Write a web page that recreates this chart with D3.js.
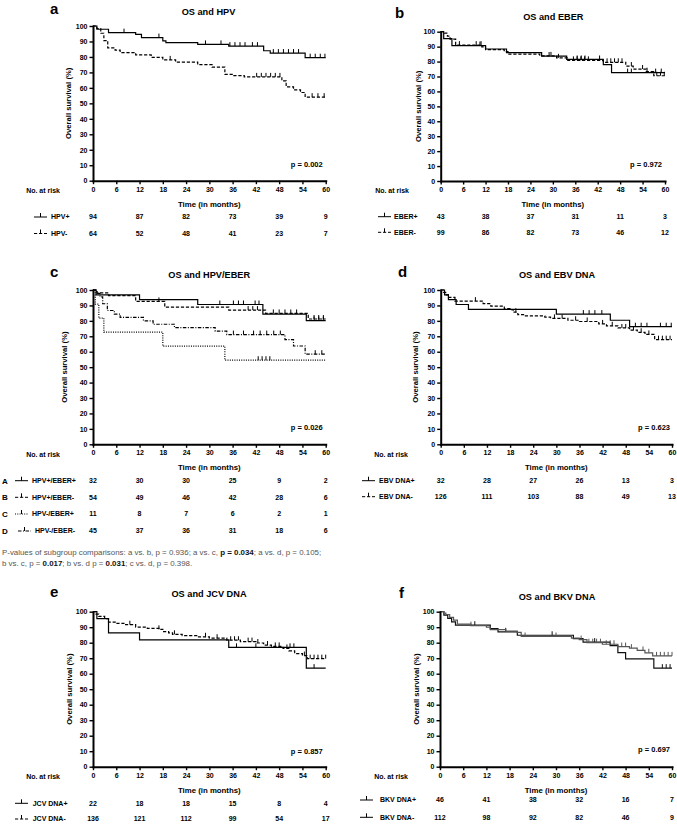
<!DOCTYPE html>
<html><head><meta charset="utf-8">
<script src="https://cdn.jsdelivr.net/npm/d3@7"></script>
<style>body{margin:0;background:#fff}svg{display:block}</style>
</head><body><svg id="c" width="677" height="825"></svg>
<script>
// ---------------- DATA ----------------
const xTicks = [0,6,12,18,24,30,36,42,48,54,60];
const yTicks = [0,10,20,30,40,50,60,70,80,90,100];
const riskTimes = [0,12,24,36,48,60];

// a: OS and HPV
const hpvPosSteps = [[0,100],[1,97.9],[4,95.7],[11,94.6],[12.5,92.5],[18,90.4],[18.8,89.3],[27,88.1],[35,87],[44,84],[45.7,82.5],[54.7,79.5]];
const hpvPosCensor = [8,17,29,33,35.3,36.6,37.9,39.2,41.1,42.4,46.5,47.8,49.1,50.4,51.7,53,56,57.3,58.6,59.8];
const hpvPosRisk = [94,87,82,73,39,9];
const hpvNegSteps = [[0,100],[1,98.4],[2,95.3],[2.8,90.6],[3.8,85.9],[5.7,84.4],[7,82.8],[11,81.3],[15,79.7],[18,78.1],[21.3,76.6],[27,75],[30.7,73.4],[34,68.7],[36.3,67.9],[39,67.1],[48.7,64.5],[49.8,60.6],[51.7,58.7],[53.5,57],[54.7,54]];
const hpvNegCensor = [19.9,42.2,43.4,44.6,45.8,47,48.2,56.5,58,59.6];
const hpvNegRisk = [64,52,48,41,23,7];

// b: OS and EBER
const eberPosSteps = [[0,100],[0.8,95.3],[3,90.7],[12,88.4],[17.6,86],[27,83.7],[33.7,81.4],[43.5,77.9],[45.7,72.6]];
const eberPosCensor = [10.5,29,36.5,37.6,38.6,42.5,50,51,57.5,59];
const eberPosRisk = [43,38,37,31,11,3];
const eberNegSteps = [[0,100],[1,99],[1.8,97],[2.5,95],[4,91],[11,89.8],[12,88],[17,86.7],[18,85],[26.5,83.8],[31,82.5],[34,80.8],[43.5,79.5],[49.5,77],[51.5,75],[55,73.2],[57,70.5]];
const eberNegCensor = [5,9.5,10.8,29.5,31.5,35.5,36.5,37.5,38.5,39.5,44.5,45.5,46.5,47.5,48.5,51,54,55.2,57.8,58.8,59.8];
const eberNegRisk = [99,86,82,73,46,12];

// c: OS and HPV/EBER
const grpASteps = [[0,100],[0.8,96.9],[12,93.8],[27,90.6],[43.8,84.4],[55,80.2]];
const grpACensor = [32.7,36.2,37.5,38.8,41.8,42.8,57,58.2,59.4];
const grpARisk = [32,30,30,25,9,2];
const grpBSteps = [[0,100],[1,98.1],[4,96.3],[11,92.6],[18.5,88.9],[35,87],[44.5,84.8],[55.5,81.2]];
const grpBCensor = [17,40,41.2,42.4,46.5,48,49.5,51,52.5,57,58.2,59.4];
const grpBRisk = [54,49,46,42,28,6];
const grpCSteps = [[0,100],[0.6,90.9],[1.5,81.8],[2.8,72.7],[18,63.6],[34,54.5]];
const grpCCensor = [42.6,43.6,44.6,45.6];
const grpCRisk = [11,8,7,6,2,1];
const grpDSteps = [[0,100],[1,97.8],[1.8,95.6],[2.5,91.1],[3.7,86.7],[5.5,84.4],[7,82.2],[13,80],[15.5,77.8],[21,75.6],[31.5,73.3],[34.5,71.1],[49.5,67.9],[51.7,63.7],[54.7,58.4]];
const grpDCensor = [36.2,38.8,41.4,43.1,44.8,46.6,48.3,57.3,59];
const grpDRisk = [45,37,36,31,18,6];
const pSubgroupLine1 = ["P-values of subgroup comparisons: a vs. b, p = 0.936; a vs. c, ", "p = 0.034", "; a vs. d, p = 0.105;"];
const pSubgroupLine2 = ["b vs. c, p = ", "0.017", "; b vs. d p = ", "0.031", "; c vs. d, p = 0.398."];

// d: OS and EBV DNA
const ebvPosSteps = [[0,100],[1,96.9],[2,93.8],[4,90.6],[7.2,87.5],[30,84.4],[44,80.4],[49,76.2]];
const ebvPosCensor = [37,38.5,40,41.8,50.5,52,53.5,57,58.5,59.8];
const ebvPosRisk = [32,28,27,26,13,3];
const ebvNegSteps = [[0,100],[0.7,98.4],[1.3,96.8],[2,95.2],[3.7,92.8],[11,91.2],[13,89.6],[16.5,88],[18,87.2],[18.8,85.6],[20,84],[21.5,83.2],[27,82.4],[28.5,81.6],[33,80.4],[36,79.6],[41,78],[43,76.8],[46,75.4],[49,74],[51,72.6],[53,71.2],[55.5,67.8]];
const ebvNegCensor = [9,19.5,29.5,31.5,35,38,42,44.5,47,48,50,52,54,56.5,57.5,58.5,59.5];
const ebvNegRisk = [126,111,103,88,49,13];

// e: OS and JCV DNA
const jcvPosSteps = [[0,100],[1,95.5],[4,86.4],[12,81.8],[35,77],[55,63.6]];
const jcvPosCensor = [37,42,50.8,51.8,57];
const jcvPosRisk = [22,18,18,15,8,4];
const jcvNegSteps = [[0,100],[0.8,98.5],[1.5,97],[3,95.5],[4,93.3],[6,92.5],[8,91.6],[11,90.1],[14,89.3],[17,88.6],[18,87.1],[19.5,86.3],[20.5,85.4],[23,84.6],[27,83.8],[30,82.9],[34.5,81.6],[38,80.7],[42,79.8],[44,78.5],[46,77.6],[49,76.3],[50.5,74.7],[52,73],[54,71.7],[55.3,69.7]];
const jcvNegCensor = [9.5,17,21,29,32,35.5,36.5,37.5,40,41,42.5,45,47,48,50,54.5,56,57,58,59,60];
const jcvNegRisk = [136,121,112,99,54,17];

// f: OS and BKV DNA
const bkvPosSteps = [[0,100],[1,97.8],[2,95.7],[3,93.5],[4,91.3],[13,89.1],[15,87],[20,84.8],[34.5,82.6],[37,80.4],[44,78.1],[46,73.6],[48,69.6],[55.3,63.6]];
const bkvPosCensor = [9,17,29,40,57.5,58.5,59.5];
const bkvPosRisk = [46,41,38,32,16,7];
const bkvNegSteps = [[0,100],[1,99.1],[1.5,98.2],[2.5,96.4],[3.5,94.6],[4.5,92],[8,91],[12,90],[13,88.5],[17,87.5],[20,86.6],[21,84],[34,83],[36,82],[38,80],[42,79],[46,77.5],[49,76.5],[51,75],[53,73.5],[55,71.5]];
const bkvNegCensor = [8,22,30,36.5,38.5,39.5,40.5,41.5,43,44,45,47,48,49.5,52.5,54,56,57,58,59,60];
const bkvNegRisk = [112,98,92,82,46,9];

// ---------------- DRAW ----------------
const FONT = '"Liberation Sans", Arial, Helvetica, sans-serif';
const svg = d3.select('#c').attr('font-family', FONT);
const SOLID = null, DASH = '3.2,1.8', DOT = '1,1.3', DASHDOT = '3.5,1.5,1,1.5';

function survAt(steps, t) {
  let s = steps[0][1];
  for (const p of steps) { if (p[0] <= t) s = p[1]; else break; }
  return s;
}

function panel(cfg) {
  const g = svg.append('g');
  const x = d3.scaleLinear().domain([0, 60]).range([cfg.left, cfg.right]);
  const y = d3.scaleLinear().domain([0, 100]).range([cfg.bottom, cfg.top]);

  // curves
  cfg.series.forEach(s => {
    const pts = s.steps.concat([[60, s.steps[s.steps.length - 1][1]]]);
    g.append('path')
      .attr('d', d3.line().x(d => x(d[0])).y(d => y(d[1])).curve(d3.curveStepAfter)(pts))
      .attr('fill', 'none').attr('stroke', s.color || '#000').attr('stroke-width', 1.2)
      .attr('stroke-dasharray', s.dash);
    g.selectAll(null).data(s.censor).join('line')
      .attr('x1', d => x(d)).attr('x2', d => x(d))
      .attr('y1', d => y(survAt(s.steps, d))).attr('y2', d => y(survAt(s.steps, d)) - 4)
      .attr('stroke', s.color || '#000').attr('stroke-width', 1);
  });

  // axes
  const ya = g.append('g').attr('transform', `translate(${cfg.left},0)`)
    .call(d3.axisLeft(y).tickValues(yTicks).tickSize(3.5).tickSizeOuter(0).tickPadding(2));
  const xa = g.append('g').attr('transform', `translate(0,${cfg.bottom})`)
    .call(d3.axisBottom(x).tickValues(xTicks).tickSize(3.5).tickSizeOuter(0).tickPadding(2.5));
  [ya, xa].forEach(a => {
    a.select('.domain').attr('stroke-width', 2).attr('stroke-linecap', 'square');
    a.selectAll('.tick line').attr('stroke-width', 1.4);
    a.selectAll('text').attr('font-size', 7).attr('font-weight', 'bold').attr('font-family', FONT).attr('fill', '#000');
  });

  // y label
  g.append('text').attr('transform', `translate(${cfg.ylabX},${(cfg.top + cfg.bottom) / 2}) rotate(-90)`)
    .attr('text-anchor', 'middle').attr('dy', '0.35em').attr('font-size', 7.7).attr('font-weight', 'bold')
    .text('Overall survival (%)');
  // title & letter
  g.append('text').attr('x', cfg.titleX).attr('y', cfg.titleY).attr('text-anchor', 'middle')
    .attr('font-size', 9.2).attr('font-weight', 'bold').text(cfg.title);
  g.append('text').attr('x', cfg.letterX).attr('y', cfg.letterY)
    .attr('font-size', 15).attr('font-weight', 'bold').text(cfg.letter);
  // p value
  g.append('text').attr('x', cfg.pX).attr('y', cfg.pY).attr('dy', '0.35em').attr('text-anchor', 'end')
    .attr('font-size', 7.5).attr('font-weight', 'bold').text(cfg.p);
  // no at risk
  g.append('text').attr('x', cfg.noX).attr('y', cfg.bottom + 10).attr('dy', '0.35em').attr('text-anchor', 'end')
    .attr('font-size', 7).attr('font-weight', 'bold').text('No. at risk');
  g.append('text').attr('x', (cfg.left + cfg.right) / 2).attr('y', cfg.bottom + 23.3).attr('dy', '0.35em')
    .attr('text-anchor', 'middle').attr('font-size', 7.8).attr('font-weight', 'bold').text('Time (in months)');

  // risk table rows
  cfg.series.forEach((s, i) => {
    const ry = cfg.rowY[i];
    const sx1 = s.symX !== undefined ? s.symX : cfg.symX;
    const lx = s.labX !== undefined ? s.labX : cfg.labX;
    if (s.code) g.append('text').attr('x', 2).attr('y', ry).attr('dy', '0.35em')
      .attr('font-size', 8).attr('font-weight', 'bold').text(s.code);
    g.append('line').attr('x1', sx1).attr('x2', sx1 + 13).attr('y1', ry).attr('y2', ry)
      .attr('stroke', '#000').attr('stroke-width', 1).attr('stroke-dasharray', s.dash);
    g.append('line').attr('x1', sx1 + 6.5).attr('x2', sx1 + 6.5).attr('y1', ry).attr('y2', ry - 4)
      .attr('stroke', '#000').attr('stroke-width', 1);
    g.append('text').attr('x', lx).attr('y', ry).attr('dy', '0.35em')
      .attr('font-size', 7).attr('font-weight', 'bold').text(s.name);
    g.selectAll(null).data(s.risk.map((v, j) => [riskTimes[j], v])).join('text')
      .attr('x', d => x(d[0])).attr('y', ry).attr('dy', '0.35em').attr('text-anchor', 'middle')
      .attr('font-size', 7).attr('font-weight', 'bold').text(d => d[1]);
  });
}

panel({left: 93, right: 325.7, top: 26, bottom: 180.7, ylabX: 68, titleX: 208.5, titleY: 15, title: 'OS and HPV',
  letter: 'a', letterX: 50, letterY: 14, p: 'p = 0.002', pX: 322.7, pY: 164, noX: 60, symX: 34, labX: 51,
  rowY: [217, 233.5],
  series: [
    {name: 'HPV+', steps: hpvPosSteps, censor: hpvPosCensor, risk: hpvPosRisk, dash: SOLID},
    {name: 'HPV-', steps: hpvNegSteps, censor: hpvNegCensor, risk: hpvNegRisk, dash: DASH}]});

panel({left: 440.7, right: 665, top: 31.7, bottom: 181, ylabX: 418.3, titleX: 553.3, titleY: 20, title: 'OS and EBER',
  letter: 'b', letterX: 395, letterY: 18.3, p: 'p = 0.972', pX: 662, pY: 164.5, noX: 409, symX: 378, labX: 394,
  rowY: [216.7, 232.3],
  series: [
    {name: 'EBER+', steps: eberPosSteps, censor: eberPosCensor, risk: eberPosRisk, dash: SOLID},
    {name: 'EBER-', steps: eberNegSteps, censor: eberNegCensor, risk: eberNegRisk, dash: DASH}]});

panel({left: 93, right: 325.7, top: 290, bottom: 444.3, ylabX: 64, titleX: 209.2, titleY: 278.3, title: 'OS and HPV/EBER',
  letter: 'c', letterX: 50, letterY: 277.3, p: 'p = 0.026', pX: 322.7, pY: 427.7, noX: 60, symX: 15, labX: 32,
  rowY: [480.7, 497.3, 514, 531],
  series: [
    {code: 'A', name: 'HPV+/EBER+', steps: grpASteps, censor: grpACensor, risk: grpARisk, dash: SOLID},
    {code: 'B', name: 'HPV+/EBER-', steps: grpBSteps, censor: grpBCensor, risk: grpBRisk, dash: DASH},
    {code: 'C', name: 'HPV-/EBER+', steps: grpCSteps, censor: grpCCensor, risk: grpCRisk, dash: DOT},
    {code: 'D', name: 'HPV-/EBER-', steps: grpDSteps, censor: grpDCensor, risk: grpDRisk, dash: DASHDOT, symX: 18, labX: 35}]});

panel({left: 440.7, right: 672, top: 290, bottom: 444.3, ylabX: 415, titleX: 557, titleY: 278.3, title: 'OS and EBV DNA',
  letter: 'd', letterX: 398, letterY: 277.3, p: 'p = 0.623', pX: 670, pY: 427.7, noX: 408, symX: 362, labX: 379,
  rowY: [480.7, 496.7],
  series: [
    {name: 'EBV DNA+', steps: ebvPosSteps, censor: ebvPosCensor, risk: ebvPosRisk, dash: SOLID},
    {name: 'EBV DNA-', steps: ebvNegSteps, censor: ebvNegCensor, risk: ebvNegRisk, dash: DASH}]});

panel({left: 93, right: 325.7, top: 611.7, bottom: 766.7, ylabX: 69, titleX: 209, titleY: 597, title: 'OS and JCV DNA',
  letter: 'e', letterX: 50, letterY: 596.7, p: 'p = 0.857', pX: 322.7, pY: 751, noX: 60, symX: 15, labX: 32.7,
  rowY: [803.3, 819],
  series: [
    {name: 'JCV DNA+', steps: jcvPosSteps, censor: jcvPosCensor, risk: jcvPosRisk, dash: SOLID},
    {name: 'JCV DNA-', steps: jcvNegSteps, censor: jcvNegCensor, risk: jcvNegRisk, dash: DASH}]});

panel({left: 440, right: 672, top: 611.7, bottom: 766.7, ylabX: 416, titleX: 557, titleY: 600, title: 'OS and BKV DNA',
  letter: 'f', letterX: 399, letterY: 598.3, p: 'p = 0.697', pX: 670, pY: 749.3, noX: 408, symX: 360, labX: 380,
  rowY: [800, 817.3],
  series: [
    {name: 'BKV DNA+', steps: bkvPosSteps, censor: bkvPosCensor, risk: bkvPosRisk, dash: SOLID, color: '#111'},
    {name: 'BKV DNA-', steps: bkvNegSteps, censor: bkvNegCensor, risk: bkvNegRisk, dash: SOLID, color: '#555'}]});

// subgroup p-values text
function richLine(parts, yPos, boldIdx) {
  const t = svg.append('text').attr('x', 2).attr('y', yPos).attr('font-size', 7.9).attr('fill', '#555');
  parts.forEach((p, i) => t.append('tspan').attr('font-weight', boldIdx.includes(i) ? 'bold' : 'normal')
    .attr('fill', boldIdx.includes(i) ? '#111' : '#555').text(p));
}
richLine(pSubgroupLine1, 555.3, [1]);
richLine(pSubgroupLine2, 566.3, [1, 3]);
</script>
</body></html>
